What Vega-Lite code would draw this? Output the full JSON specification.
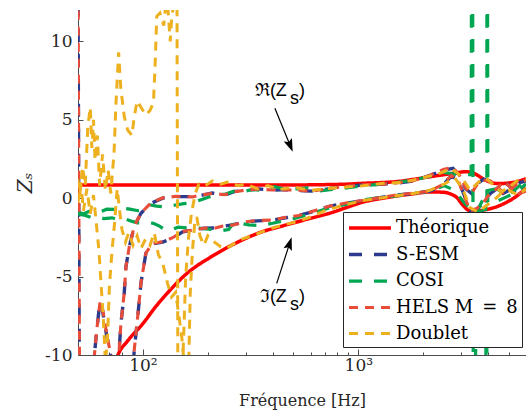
{
  "$schema": "https://vega.github.io/schema/vega-lite/v6.json",
  "width": 448,
  "height": 345,
  "autosize": {"type": "none"},
  "padding": {"left": 78, "top": 10, "right": 0, "bottom": 59},
  "background": "white",
  "config": {"view": {"stroke": null}, "font": "'DejaVu Serif', 'Liberation Serif', serif"},
  "datasets": {
    "theory": [
      {"m":"Théorique","p":"re","f":50,"z":0.84},{"m":"Théorique","p":"re","f":200,"z":0.84},{"m":"Théorique","p":"re","f":400,"z":0.84},{"m":"Théorique","p":"re","f":600,"z":0.85},{"m":"Théorique","p":"re","f":740,"z":0.87},{"m":"Théorique","p":"re","f":900,"z":0.9},{"m":"Théorique","p":"re","f":1050,"z":0.95},{"m":"Théorique","p":"re","f":1300,"z":1.0},{"m":"Théorique","p":"re","f":1510,"z":1.06},{"m":"Théorique","p":"re","f":1800,"z":1.2},{"m":"Théorique","p":"re","f":2150,"z":1.37},{"m":"Théorique","p":"re","f":2500,"z":1.5},{"m":"Théorique","p":"re","f":2860,"z":1.62},{"m":"Théorique","p":"re","f":3150,"z":1.69},{"m":"Théorique","p":"re","f":3400,"z":1.62},{"m":"Théorique","p":"re","f":3660,"z":1.37},{"m":"Théorique","p":"re","f":3900,"z":1.15},{"m":"Théorique","p":"re","f":4150,"z":1.0},{"m":"Théorique","p":"re","f":4400,"z":0.93},{"m":"Théorique","p":"re","f":4890,"z":0.96},{"m":"Théorique","p":"re","f":5450,"z":1.06},{"m":"Théorique","p":"re","f":6000,"z":1.25},
      {"m":"Théorique","p":"im","f":70,"z":-11.8},{"m":"Théorique","p":"im","f":76.6,"z":-10},{"m":"Théorique","p":"im","f":85,"z":-9.1},{"m":"Théorique","p":"im","f":100,"z":-8.0},{"m":"Théorique","p":"im","f":115,"z":-6.9},{"m":"Théorique","p":"im","f":133,"z":-5.9},{"m":"Théorique","p":"im","f":160,"z":-4.8},{"m":"Théorique","p":"im","f":204,"z":-3.8},{"m":"Théorique","p":"im","f":250,"z":-3.1},{"m":"Théorique","p":"im","f":291,"z":-2.65},{"m":"Théorique","p":"im","f":348,"z":-2.2},{"m":"Théorique","p":"im","f":450,"z":-1.75},{"m":"Théorique","p":"im","f":594,"z":-1.3},{"m":"Théorique","p":"im","f":760,"z":-0.9},{"m":"Théorique","p":"im","f":900,"z":-0.55},{"m":"Théorique","p":"im","f":1050,"z":-0.25},{"m":"Théorique","p":"im","f":1300,"z":0.0},{"m":"Théorique","p":"im","f":1510,"z":0.14},{"m":"Théorique","p":"im","f":1800,"z":0.28},{"m":"Théorique","p":"im","f":2150,"z":0.4},{"m":"Théorique","p":"im","f":2470,"z":0.38},{"m":"Théorique","p":"im","f":2700,"z":0.25},{"m":"Théorique","p":"im","f":2860,"z":0.05},{"m":"Théorique","p":"im","f":3050,"z":-0.43},{"m":"Théorique","p":"im","f":3290,"z":-0.8},{"m":"Théorique","p":"im","f":3550,"z":-0.82},{"m":"Théorique","p":"im","f":4000,"z":-0.7},{"m":"Théorique","p":"im","f":4400,"z":-0.54},{"m":"Théorique","p":"im","f":4890,"z":-0.25},{"m":"Théorique","p":"im","f":5450,"z":0.15},{"m":"Théorique","p":"im","f":6000,"z":0.65}
    ],
    "recon": [
      {"m":"S-ESM","p":"re","f":50,"z":14},{"m":"S-ESM","p":"re","f":50.8,"z":-14},{"m":"S-ESM","p":"re","f":76,"z":-14},{"m":"S-ESM","p":"re","f":77.6,"z":-9.7},{"m":"S-ESM","p":"re","f":79.1,"z":-8.0},{"m":"S-ESM","p":"re","f":81.9,"z":-6.1},{"m":"S-ESM","p":"re","f":83.4,"z":-4.4},{"m":"S-ESM","p":"re","f":86.5,"z":-3.1},{"m":"S-ESM","p":"re","f":91.2,"z":-1.8},{"m":"S-ESM","p":"re","f":98,"z":-0.96},{"m":"S-ESM","p":"re","f":109,"z":-0.33},{"m":"S-ESM","p":"re","f":123.5,"z":0.0},{"m":"S-ESM","p":"re","f":142.5,"z":0.1},{"m":"S-ESM","p":"re","f":170,"z":0.1},{"m":"S-ESM","p":"re","f":189,"z":0.2},{"m":"S-ESM","p":"re","f":210,"z":0.33},{"m":"S-ESM","p":"re","f":240,"z":0.2},{"m":"S-ESM","p":"re","f":265,"z":0.42},{"m":"S-ESM","p":"re","f":300,"z":0.5},{"m":"S-ESM","p":"re","f":340,"z":0.6},{"m":"S-ESM","p":"re","f":400,"z":0.5},{"m":"S-ESM","p":"re","f":460,"z":0.55},{"m":"S-ESM","p":"re","f":520,"z":0.5},{"m":"S-ESM","p":"re","f":600,"z":0.45},{"m":"S-ESM","p":"re","f":700,"z":0.55},{"m":"S-ESM","p":"re","f":800,"z":0.7},{"m":"S-ESM","p":"re","f":1050,"z":0.84},{"m":"S-ESM","p":"re","f":1300,"z":0.9},{"m":"S-ESM","p":"re","f":1500,"z":0.95},{"m":"S-ESM","p":"re","f":1800,"z":1.1},{"m":"S-ESM","p":"re","f":2150,"z":1.45},{"m":"S-ESM","p":"re","f":2500,"z":1.8},{"m":"S-ESM","p":"re","f":2750,"z":1.9},{"m":"S-ESM","p":"re","f":2950,"z":1.4},{"m":"S-ESM","p":"re","f":3150,"z":0.6},{"m":"S-ESM","p":"re","f":3350,"z":0.3},{"m":"S-ESM","p":"re","f":3550,"z":0.9},{"m":"S-ESM","p":"re","f":3800,"z":1.2},{"m":"S-ESM","p":"re","f":4100,"z":1.1},{"m":"S-ESM","p":"re","f":4400,"z":0.7},{"m":"S-ESM","p":"re","f":4700,"z":0.3},{"m":"S-ESM","p":"re","f":5000,"z":0.5},{"m":"S-ESM","p":"re","f":5450,"z":0.95},{"m":"S-ESM","p":"re","f":6000,"z":1.1},
      {"m":"S-ESM","p":"im","f":50,"z":-14},{"m":"S-ESM","p":"im","f":58,"z":-13},{"m":"S-ESM","p":"im","f":59.3,"z":-10.3},{"m":"S-ESM","p":"im","f":61,"z":-8.5},{"m":"S-ESM","p":"im","f":63.2,"z":-6.6},{"m":"S-ESM","p":"im","f":65,"z":-7.2},{"m":"S-ESM","p":"im","f":68,"z":-8.8},{"m":"S-ESM","p":"im","f":72,"z":-10.5},{"m":"S-ESM","p":"im","f":76,"z":-13},{"m":"S-ESM","p":"im","f":88,"z":-13},{"m":"S-ESM","p":"im","f":91.2,"z":-9.7},{"m":"S-ESM","p":"im","f":94.6,"z":-7.6},{"m":"S-ESM","p":"im","f":98,"z":-5.4},{"m":"S-ESM","p":"im","f":101.5,"z":-4.15},{"m":"S-ESM","p":"im","f":103.3,"z":-3.5},{"m":"S-ESM","p":"im","f":111,"z":-2.9},{"m":"S-ESM","p":"im","f":123.5,"z":-2.8},{"m":"S-ESM","p":"im","f":137.5,"z":-2.55},{"m":"S-ESM","p":"im","f":153,"z":-2.15},{"m":"S-ESM","p":"im","f":176,"z":-2.0},{"m":"S-ESM","p":"im","f":193,"z":-1.92},{"m":"S-ESM","p":"im","f":215,"z":-1.9},{"m":"S-ESM","p":"im","f":235,"z":-1.8},{"m":"S-ESM","p":"im","f":260,"z":-1.7},{"m":"S-ESM","p":"im","f":300,"z":-1.5},{"m":"S-ESM","p":"im","f":340,"z":-1.45},{"m":"S-ESM","p":"im","f":400,"z":-1.4},{"m":"S-ESM","p":"im","f":460,"z":-1.25},{"m":"S-ESM","p":"im","f":530,"z":-1.1},{"m":"S-ESM","p":"im","f":620,"z":-0.85},{"m":"S-ESM","p":"im","f":740,"z":-0.5},{"m":"S-ESM","p":"im","f":900,"z":-0.3},{"m":"S-ESM","p":"im","f":1100,"z":-0.1},{"m":"S-ESM","p":"im","f":1500,"z":0.2},{"m":"S-ESM","p":"im","f":1800,"z":0.3},{"m":"S-ESM","p":"im","f":2150,"z":0.45},{"m":"S-ESM","p":"im","f":2450,"z":0.8},{"m":"S-ESM","p":"im","f":2700,"z":1.4},{"m":"S-ESM","p":"im","f":2900,"z":1.2},{"m":"S-ESM","p":"im","f":3100,"z":0.2},{"m":"S-ESM","p":"im","f":3300,"z":-0.8},{"m":"S-ESM","p":"im","f":3550,"z":-0.7},{"m":"S-ESM","p":"im","f":3800,"z":-0.3},{"m":"S-ESM","p":"im","f":4100,"z":0.3},{"m":"S-ESM","p":"im","f":4400,"z":0.6},{"m":"S-ESM","p":"im","f":4700,"z":1.1},{"m":"S-ESM","p":"im","f":5000,"z":0.8},{"m":"S-ESM","p":"im","f":5450,"z":0.2},{"m":"S-ESM","p":"im","f":6000,"z":0.4},
      {"m":"COSI","p":"re","f":50,"z":-0.9},{"m":"COSI","p":"re","f":53,"z":-1.0},{"m":"COSI","p":"re","f":56,"z":-0.85},{"m":"COSI","p":"re","f":60,"z":-0.75},{"m":"COSI","p":"re","f":64,"z":-0.85},{"m":"COSI","p":"re","f":68,"z":-0.7},{"m":"COSI","p":"re","f":74,"z":-0.72},{"m":"COSI","p":"re","f":80,"z":-0.62},{"m":"COSI","p":"re","f":87,"z":-0.7},{"m":"COSI","p":"re","f":95,"z":-0.8},{"m":"COSI","p":"re","f":102,"z":-0.75},{"m":"COSI","p":"re","f":108,"z":-0.43},{"m":"COSI","p":"re","f":116,"z":-0.5},{"m":"COSI","p":"re","f":126,"z":-0.56},{"m":"COSI","p":"re","f":140,"z":-0.45},{"m":"COSI","p":"re","f":155,"z":-0.35},{"m":"COSI","p":"re","f":175,"z":-0.24},{"m":"COSI","p":"re","f":195,"z":0.0},{"m":"COSI","p":"re","f":215,"z":0.2},{"m":"COSI","p":"re","f":240,"z":0.25},{"m":"COSI","p":"re","f":265,"z":0.45},{"m":"COSI","p":"re","f":290,"z":0.4},{"m":"COSI","p":"re","f":320,"z":0.55},{"m":"COSI","p":"re","f":360,"z":0.5},{"m":"COSI","p":"re","f":410,"z":0.73},{"m":"COSI","p":"re","f":460,"z":0.55},{"m":"COSI","p":"re","f":520,"z":0.6},{"m":"COSI","p":"re","f":580,"z":0.65},{"m":"COSI","p":"re","f":650,"z":0.45},{"m":"COSI","p":"re","f":740,"z":0.55},{"m":"COSI","p":"re","f":850,"z":0.62},{"m":"COSI","p":"re","f":1050,"z":0.8},{"m":"COSI","p":"re","f":1300,"z":0.9},{"m":"COSI","p":"re","f":1500,"z":1.0},{"m":"COSI","p":"re","f":1800,"z":1.15},{"m":"COSI","p":"re","f":2150,"z":1.4},{"m":"COSI","p":"re","f":2500,"z":1.65},{"m":"COSI","p":"re","f":2900,"z":1.5},{"m":"COSI","p":"re","f":3340,"z":1.5},{"m":"COSI","p":"re","f":3370,"z":40},{"m":"COSI","p":"re","f":3440,"z":-40},{"m":"COSI","p":"re","f":3520,"z":-1.0},{"m":"COSI","p":"re","f":3750,"z":-0.2},{"m":"COSI","p":"re","f":4000,"z":0.5},{"m":"COSI","p":"re","f":4400,"z":0.6},{"m":"COSI","p":"re","f":4800,"z":0.2},{"m":"COSI","p":"re","f":5200,"z":0.4},{"m":"COSI","p":"re","f":5600,"z":0.8},{"m":"COSI","p":"re","f":6000,"z":1.0},
      {"m":"COSI","p":"im","f":50,"z":-1.0},{"m":"COSI","p":"im","f":54,"z":-1.1},{"m":"COSI","p":"im","f":58,"z":-1.25},{"m":"COSI","p":"im","f":62,"z":-1.2},{"m":"COSI","p":"im","f":66,"z":-1.3},{"m":"COSI","p":"im","f":72,"z":-1.25},{"m":"COSI","p":"im","f":78,"z":-1.4},{"m":"COSI","p":"im","f":84,"z":-1.35},{"m":"COSI","p":"im","f":90,"z":-1.5},{"m":"COSI","p":"im","f":97,"z":-1.6},{"m":"COSI","p":"im","f":104,"z":-1.55},{"m":"COSI","p":"im","f":112,"z":-1.6},{"m":"COSI","p":"im","f":120,"z":-1.8},{"m":"COSI","p":"im","f":128,"z":-2.05},{"m":"COSI","p":"im","f":136,"z":-2.0},{"m":"COSI","p":"im","f":146,"z":-1.85},{"m":"COSI","p":"im","f":160,"z":-1.9},{"m":"COSI","p":"im","f":176,"z":-1.9},{"m":"COSI","p":"im","f":195,"z":-1.95},{"m":"COSI","p":"im","f":210,"z":-2.0},{"m":"COSI","p":"im","f":225,"z":-2.1},{"m":"COSI","p":"im","f":250,"z":-2.0},{"m":"COSI","p":"im","f":268,"z":-1.45},{"m":"COSI","p":"im","f":285,"z":-1.6},{"m":"COSI","p":"im","f":310,"z":-1.7},{"m":"COSI","p":"im","f":350,"z":-1.75},{"m":"COSI","p":"im","f":400,"z":-1.6},{"m":"COSI","p":"im","f":450,"z":-1.45},{"m":"COSI","p":"im","f":500,"z":-1.3},{"m":"COSI","p":"im","f":600,"z":-1.0},{"m":"COSI","p":"im","f":740,"z":-0.6},{"m":"COSI","p":"im","f":900,"z":-0.35},{"m":"COSI","p":"im","f":1050,"z":-0.1},{"m":"COSI","p":"im","f":1500,"z":0.15},{"m":"COSI","p":"im","f":2150,"z":0.45},{"m":"COSI","p":"im","f":2500,"z":0.8},{"m":"COSI","p":"im","f":2800,"z":0.5},{"m":"COSI","p":"im","f":3100,"z":-0.3},{"m":"COSI","p":"im","f":3400,"z":-0.8},{"m":"COSI","p":"im","f":3700,"z":-0.9},{"m":"COSI","p":"im","f":3900,"z":-0.6},{"m":"COSI","p":"im","f":3945,"z":-40},{"m":"COSI","p":"im","f":3955,"z":40},{"m":"COSI","p":"im","f":3990,"z":-0.3},{"m":"COSI","p":"im","f":4400,"z":-0.2},{"m":"COSI","p":"im","f":4900,"z":0.1},{"m":"COSI","p":"im","f":5450,"z":0.4},{"m":"COSI","p":"im","f":6000,"z":0.9},
      {"m":"HELS M = 8","p":"re","f":50,"z":14},{"m":"HELS M = 8","p":"re","f":50.9,"z":-14},{"m":"HELS M = 8","p":"re","f":76,"z":-14},{"m":"HELS M = 8","p":"re","f":77.7,"z":-9.6},{"m":"HELS M = 8","p":"re","f":79.2,"z":-7.9},{"m":"HELS M = 8","p":"re","f":82,"z":-6.0},{"m":"HELS M = 8","p":"re","f":83.5,"z":-4.35},{"m":"HELS M = 8","p":"re","f":86.6,"z":-3.05},{"m":"HELS M = 8","p":"re","f":91.3,"z":-1.78},{"m":"HELS M = 8","p":"re","f":98,"z":-0.95},{"m":"HELS M = 8","p":"re","f":109,"z":-0.3},{"m":"HELS M = 8","p":"re","f":123.5,"z":0.02},{"m":"HELS M = 8","p":"re","f":142.5,"z":0.12},{"m":"HELS M = 8","p":"re","f":170,"z":0.08},{"m":"HELS M = 8","p":"re","f":189,"z":0.22},{"m":"HELS M = 8","p":"re","f":210,"z":0.3},{"m":"HELS M = 8","p":"re","f":240,"z":0.22},{"m":"HELS M = 8","p":"re","f":265,"z":0.4},{"m":"HELS M = 8","p":"re","f":300,"z":0.52},{"m":"HELS M = 8","p":"re","f":340,"z":0.58},{"m":"HELS M = 8","p":"re","f":400,"z":0.52},{"m":"HELS M = 8","p":"re","f":460,"z":0.53},{"m":"HELS M = 8","p":"re","f":520,"z":0.52},{"m":"HELS M = 8","p":"re","f":600,"z":0.45},{"m":"HELS M = 8","p":"re","f":700,"z":0.57},{"m":"HELS M = 8","p":"re","f":800,"z":0.7},{"m":"HELS M = 8","p":"re","f":1050,"z":0.85},{"m":"HELS M = 8","p":"re","f":1300,"z":0.9},{"m":"HELS M = 8","p":"re","f":1500,"z":0.97},{"m":"HELS M = 8","p":"re","f":1800,"z":1.12},{"m":"HELS M = 8","p":"re","f":2150,"z":1.45},{"m":"HELS M = 8","p":"re","f":2500,"z":1.85},{"m":"HELS M = 8","p":"re","f":2750,"z":1.95},{"m":"HELS M = 8","p":"re","f":2950,"z":1.45},{"m":"HELS M = 8","p":"re","f":3150,"z":0.65},{"m":"HELS M = 8","p":"re","f":3350,"z":0.3},{"m":"HELS M = 8","p":"re","f":3550,"z":0.85},{"m":"HELS M = 8","p":"re","f":3800,"z":1.15},{"m":"HELS M = 8","p":"re","f":4100,"z":1.1},{"m":"HELS M = 8","p":"re","f":4400,"z":0.75},{"m":"HELS M = 8","p":"re","f":4700,"z":0.35},{"m":"HELS M = 8","p":"re","f":5000,"z":0.5},{"m":"HELS M = 8","p":"re","f":5450,"z":0.9},{"m":"HELS M = 8","p":"re","f":6000,"z":1.15},
      {"m":"HELS M = 8","p":"im","f":50,"z":-14},{"m":"HELS M = 8","p":"im","f":58,"z":-13},{"m":"HELS M = 8","p":"im","f":59.4,"z":-10.2},{"m":"HELS M = 8","p":"im","f":61.1,"z":-8.4},{"m":"HELS M = 8","p":"im","f":63.3,"z":-6.6},{"m":"HELS M = 8","p":"im","f":65.1,"z":-7.1},{"m":"HELS M = 8","p":"im","f":68,"z":-8.7},{"m":"HELS M = 8","p":"im","f":72,"z":-10.4},{"m":"HELS M = 8","p":"im","f":76,"z":-13},{"m":"HELS M = 8","p":"im","f":88,"z":-13},{"m":"HELS M = 8","p":"im","f":91.3,"z":-9.6},{"m":"HELS M = 8","p":"im","f":94.7,"z":-7.5},{"m":"HELS M = 8","p":"im","f":98.1,"z":-5.35},{"m":"HELS M = 8","p":"im","f":101.6,"z":-4.1},{"m":"HELS M = 8","p":"im","f":103.4,"z":-3.48},{"m":"HELS M = 8","p":"im","f":111,"z":-2.88},{"m":"HELS M = 8","p":"im","f":123.5,"z":-2.78},{"m":"HELS M = 8","p":"im","f":137.5,"z":-2.52},{"m":"HELS M = 8","p":"im","f":153,"z":-2.12},{"m":"HELS M = 8","p":"im","f":176,"z":-2.02},{"m":"HELS M = 8","p":"im","f":193,"z":-1.9},{"m":"HELS M = 8","p":"im","f":215,"z":-1.92},{"m":"HELS M = 8","p":"im","f":235,"z":-1.78},{"m":"HELS M = 8","p":"im","f":260,"z":-1.72},{"m":"HELS M = 8","p":"im","f":300,"z":-1.5},{"m":"HELS M = 8","p":"im","f":340,"z":-1.42},{"m":"HELS M = 8","p":"im","f":400,"z":-1.4},{"m":"HELS M = 8","p":"im","f":460,"z":-1.22},{"m":"HELS M = 8","p":"im","f":530,"z":-1.1},{"m":"HELS M = 8","p":"im","f":620,"z":-0.82},{"m":"HELS M = 8","p":"im","f":740,"z":-0.5},{"m":"HELS M = 8","p":"im","f":900,"z":-0.28},{"m":"HELS M = 8","p":"im","f":1100,"z":-0.1},{"m":"HELS M = 8","p":"im","f":1500,"z":0.2},{"m":"HELS M = 8","p":"im","f":1800,"z":0.32},{"m":"HELS M = 8","p":"im","f":2150,"z":0.45},{"m":"HELS M = 8","p":"im","f":2450,"z":0.85},{"m":"HELS M = 8","p":"im","f":2700,"z":1.45},{"m":"HELS M = 8","p":"im","f":2900,"z":1.15},{"m":"HELS M = 8","p":"im","f":3100,"z":0.15},{"m":"HELS M = 8","p":"im","f":3300,"z":-0.8},{"m":"HELS M = 8","p":"im","f":3550,"z":-0.65},{"m":"HELS M = 8","p":"im","f":3800,"z":-0.3},{"m":"HELS M = 8","p":"im","f":4100,"z":0.35},{"m":"HELS M = 8","p":"im","f":4400,"z":0.6},{"m":"HELS M = 8","p":"im","f":4700,"z":1.05},{"m":"HELS M = 8","p":"im","f":5000,"z":0.8},{"m":"HELS M = 8","p":"im","f":5450,"z":0.25},{"m":"HELS M = 8","p":"im","f":6000,"z":0.45},
      {"m":"Doublet","p":"re","f":50,"z":1.2},{"m":"Doublet","p":"re","f":51,"z":0.2},{"m":"Doublet","p":"re","f":52.5,"z":2.0},{"m":"Doublet","p":"re","f":54,"z":0.8},{"m":"Doublet","p":"re","f":55.5,"z":4.5},{"m":"Doublet","p":"re","f":57,"z":5.8},{"m":"Doublet","p":"re","f":58,"z":3.2},{"m":"Doublet","p":"re","f":59,"z":5.0},{"m":"Doublet","p":"re","f":60,"z":2.4},{"m":"Doublet","p":"re","f":61.5,"z":4.0},{"m":"Doublet","p":"re","f":63,"z":0.8},{"m":"Doublet","p":"re","f":65,"z":2.8},{"m":"Doublet","p":"re","f":67,"z":0.5},{"m":"Doublet","p":"re","f":69,"z":1.8},{"m":"Doublet","p":"re","f":71,"z":0.3},{"m":"Doublet","p":"re","f":73.5,"z":2.9},{"m":"Doublet","p":"re","f":75,"z":6.0},{"m":"Doublet","p":"re","f":77.2,"z":9.3},{"m":"Doublet","p":"re","f":79,"z":7.0},{"m":"Doublet","p":"re","f":82,"z":5.2},{"m":"Doublet","p":"re","f":85,"z":4.35},{"m":"Doublet","p":"re","f":89,"z":4.0},{"m":"Doublet","p":"re","f":91,"z":5.1},{"m":"Doublet","p":"re","f":94,"z":6.2},{"m":"Doublet","p":"re","f":98,"z":5.8},{"m":"Doublet","p":"re","f":103,"z":5.3},{"m":"Doublet","p":"re","f":108,"z":5.6},{"m":"Doublet","p":"re","f":112,"z":6.1},{"m":"Doublet","p":"re","f":114,"z":8.5},{"m":"Doublet","p":"re","f":116,"z":11.6},{"m":"Doublet","p":"re","f":120,"z":11.8},{"m":"Doublet","p":"re","f":125,"z":11.0},{"m":"Doublet","p":"re","f":128,"z":12.5},{"m":"Doublet","p":"re","f":131,"z":11.9},{"m":"Doublet","p":"re","f":134,"z":10.0},{"m":"Doublet","p":"re","f":136,"z":11.5},{"m":"Doublet","p":"re","f":140,"z":12.6},{"m":"Doublet","p":"re","f":144,"z":13},{"m":"Doublet","p":"re","f":145.5,"z":-14},{"m":"Doublet","p":"re","f":151,"z":-14},{"m":"Doublet","p":"re","f":154,"z":-9.5},{"m":"Doublet","p":"re","f":158,"z":-5.0},{"m":"Doublet","p":"re","f":163,"z":-2.5},{"m":"Doublet","p":"re","f":168,"z":-1.0},{"m":"Doublet","p":"re","f":175,"z":0.3},{"m":"Doublet","p":"re","f":182,"z":0.9},{"m":"Doublet","p":"re","f":195,"z":0.8},{"m":"Doublet","p":"re","f":210,"z":1.1},{"m":"Doublet","p":"re","f":230,"z":0.9},{"m":"Doublet","p":"re","f":250,"z":1.05},{"m":"Doublet","p":"re","f":275,"z":0.8},{"m":"Doublet","p":"re","f":300,"z":0.9},{"m":"Doublet","p":"re","f":340,"z":0.6},{"m":"Doublet","p":"re","f":380,"z":0.8},{"m":"Doublet","p":"re","f":430,"z":0.55},{"m":"Doublet","p":"re","f":500,"z":0.7},{"m":"Doublet","p":"re","f":600,"z":0.5},{"m":"Doublet","p":"re","f":700,"z":0.6},{"m":"Doublet","p":"re","f":850,"z":0.7},{"m":"Doublet","p":"re","f":1050,"z":0.8},{"m":"Doublet","p":"re","f":1300,"z":0.95},{"m":"Doublet","p":"re","f":1600,"z":1.0},{"m":"Doublet","p":"re","f":2000,"z":1.3},{"m":"Doublet","p":"re","f":2400,"z":1.6},{"m":"Doublet","p":"re","f":2700,"z":1.9},{"m":"Doublet","p":"re","f":3000,"z":1.4},{"m":"Doublet","p":"re","f":3300,"z":0.5},{"m":"Doublet","p":"re","f":3600,"z":1.0},{"m":"Doublet","p":"re","f":3900,"z":1.3},{"m":"Doublet","p":"re","f":4200,"z":0.9},{"m":"Doublet","p":"re","f":4600,"z":0.4},{"m":"Doublet","p":"re","f":5000,"z":0.7},{"m":"Doublet","p":"re","f":5450,"z":1.1},{"m":"Doublet","p":"re","f":6000,"z":1.2},
      {"m":"Doublet","p":"im","f":50,"z":-0.3},{"m":"Doublet","p":"im","f":51.5,"z":1.0},{"m":"Doublet","p":"im","f":53,"z":-0.8},{"m":"Doublet","p":"im","f":55,"z":0.6},{"m":"Doublet","p":"im","f":57,"z":-1.0},{"m":"Doublet","p":"im","f":59,"z":0.2},{"m":"Doublet","p":"im","f":61,"z":-1.8},{"m":"Doublet","p":"im","f":62.5,"z":-3.3},{"m":"Doublet","p":"im","f":64,"z":-5.5},{"m":"Doublet","p":"im","f":65.5,"z":-7.6},{"m":"Doublet","p":"im","f":67,"z":-10.5},{"m":"Doublet","p":"im","f":68.5,"z":-9.0},{"m":"Doublet","p":"im","f":70,"z":-5.5},{"m":"Doublet","p":"im","f":72,"z":-3.3},{"m":"Doublet","p":"im","f":74,"z":-1.5},{"m":"Doublet","p":"im","f":76,"z":0.6},{"m":"Doublet","p":"im","f":78,"z":-0.8},{"m":"Doublet","p":"im","f":80,"z":-2.0},{"m":"Doublet","p":"im","f":83,"z":-2.8},{"m":"Doublet","p":"im","f":86,"z":-2.2},{"m":"Doublet","p":"im","f":90,"z":-3.0},{"m":"Doublet","p":"im","f":94,"z":-2.4},{"m":"Doublet","p":"im","f":98,"z":-3.2},{"m":"Doublet","p":"im","f":103,"z":-2.6},{"m":"Doublet","p":"im","f":108,"z":-3.0},{"m":"Doublet","p":"im","f":113,"z":-2.2},{"m":"Doublet","p":"im","f":118,"z":-3.6},{"m":"Doublet","p":"im","f":124,"z":-4.2},{"m":"Doublet","p":"im","f":130,"z":-5.4},{"m":"Doublet","p":"im","f":136,"z":-6.3},{"m":"Doublet","p":"im","f":142,"z":-6.0},{"m":"Doublet","p":"im","f":147,"z":-7.5},{"m":"Doublet","p":"im","f":152,"z":-9.0},{"m":"Doublet","p":"im","f":156,"z":-10.8},{"m":"Doublet","p":"im","f":160,"z":-12},{"m":"Doublet","p":"im","f":163,"z":-11},{"m":"Doublet","p":"im","f":166,"z":-6},{"m":"Doublet","p":"im","f":170,"z":-3.3},{"m":"Doublet","p":"im","f":174,"z":-1.6},{"m":"Doublet","p":"im","f":178,"z":-1.2},{"m":"Doublet","p":"im","f":184,"z":-2.4},{"m":"Doublet","p":"im","f":192,"z":-3.0},{"m":"Doublet","p":"im","f":200,"z":-2.4},{"m":"Doublet","p":"im","f":215,"z":-2.8},{"m":"Doublet","p":"im","f":230,"z":-3.1},{"m":"Doublet","p":"im","f":245,"z":-3.2},{"m":"Doublet","p":"im","f":265,"z":-2.9},{"m":"Doublet","p":"im","f":290,"z":-2.6},{"m":"Doublet","p":"im","f":320,"z":-2.4},{"m":"Doublet","p":"im","f":350,"z":-2.2},{"m":"Doublet","p":"im","f":400,"z":-1.9},{"m":"Doublet","p":"im","f":450,"z":-1.7},{"m":"Doublet","p":"im","f":520,"z":-1.5},{"m":"Doublet","p":"im","f":600,"z":-1.2},{"m":"Doublet","p":"im","f":700,"z":-0.8},{"m":"Doublet","p":"im","f":850,"z":-0.45},{"m":"Doublet","p":"im","f":1050,"z":-0.15},{"m":"Doublet","p":"im","f":1400,"z":0.1},{"m":"Doublet","p":"im","f":1800,"z":0.3},{"m":"Doublet","p":"im","f":2150,"z":0.5},{"m":"Doublet","p":"im","f":2500,"z":0.9},{"m":"Doublet","p":"im","f":2800,"z":1.3},{"m":"Doublet","p":"im","f":3050,"z":0.6},{"m":"Doublet","p":"im","f":3300,"z":-0.6},{"m":"Doublet","p":"im","f":3600,"z":-0.9},{"m":"Doublet","p":"im","f":3900,"z":-0.5},{"m":"Doublet","p":"im","f":4200,"z":-0.2},{"m":"Doublet","p":"im","f":4600,"z":0.3},{"m":"Doublet","p":"im","f":5000,"z":0.5},{"m":"Doublet","p":"im","f":5500,"z":0.2},{"m":"Doublet","p":"im","f":6000,"z":0.6}
    ],
    "arrows": [
      {"f":410,"z":5.73,"f2":480,"z2":3.44},
      {"f":418,"z":-5.43,"f2":477.5,"z2":-2.98}
    ],
    "heads": [
      {"f":480,"z":3.44,"a":158},
      {"f":477.5,"z":-2.98,"a":18}
    ],
    "notes": [
      {"f":471,"z":6.84,"a":"ℜ(Z","b":"s","c":")"},
      {"f":471,"z":-6.3,"a":"ℑ(Z","b":"s","c":")"}
    ]
  },
  "encoding": {
    "x": {
      "field": "f", "type": "quantitative",
      "scale": {"type": "log", "domain": [50, 6000], "nice": false},
      "axis": {
        "title": "Fréquence [Hz]",
        "values": [60,70,80,90,100,200,300,400,500,600,700,800,900,1000,2000,3000,4000,5000],
        "labelExpr": "datum.value == 100 ? '10²' : datum.value == 1000 ? '10³' : ''",
        "grid": false,
        "tickSize": {"condition": {"test": "datum.value == 100 || datum.value == 1000", "value": -6}, "value": -3},
        "tickColor": "#4d4d4d", "domainColor": "#4d4d4d", "domainWidth": 1,
        "labelFont": "'DejaVu Serif', 'Liberation Serif', serif", "labelFontSize": 17, "labelColor": "#262626",
        "labelPadding": 8, "labelFlush": false, "labelOverlap": false,
        "titleFont": "'DejaVu Serif', 'Liberation Serif', serif", "titleFontSize": 16, "titleFontWeight": "normal", "titleColor": "#262626",
        "titlePadding": 16
      }
    },
    "y": {
      "field": "z", "type": "quantitative",
      "scale": {"domain": [-10, 12], "nice": false, "zero": false},
      "axis": {
        "title": "Zₛ",
        "values": [-10, -5, 0, 5, 10],
        "labelExpr": "'' + datum.value",
        "grid": false,
        "tickSize": -5,
        "tickColor": "#4d4d4d", "domainColor": "#4d4d4d", "domainWidth": 1,
        "labelFont": "'DejaVu Serif', 'Liberation Serif', serif", "labelFontSize": 17, "labelColor": "#262626",
        "labelPadding": 11,
        "titleFont": "'DejaVu Serif', 'Liberation Serif', serif", "titleFontSize": 20, "titleFontWeight": "normal", "titleFontStyle": "italic", "titleColor": "#262626",
        "titlePadding": 9
      }
    }
  },
  "layer": [
    {
      "data": {"name": "theory"},
      "mark": {"type": "line", "clip": true, "interpolate": "monotone"},
      "encoding": {
        "detail": {"field": "p"},
        "color": {
          "field": "m", "type": "nominal",
          "scale": {"domain": ["Théorique","S-ESM","COSI","HELS M = 8","Doublet"], "range": ["#ff0000","#2b3a8c","#00a651","#e84d3a","#edb120"]},
          "legend": {
            "title": null, "orient": "none", "legendX": 265, "legendY": 202,
            "symbolType": "M-1,0H3.2", "symbolSize": 400,
            "labelFont": "'DejaVu Serif', 'Liberation Serif', serif", "labelFontSize": 18, "labelColor": "black",
            "labelExpr": "replace(datum.label, ' = ', '\u2002=\u2002')",
            "labelOffset": 25, "rowPadding": 5.5, "padding": 4,
            "strokeColor": "#262626", "fillColor": "white"
          }
        },
        "strokeDash": {
          "field": "m", "type": "nominal",
          "scale": {"domain": ["Théorique","S-ESM","COSI","HELS M = 8","Doublet"], "range": [[1,0],[13,12],[13,12],[9,7],[9,7]]}
        },
        "strokeWidth": {
          "field": "m", "type": "nominal",
          "scale": {"domain": ["Théorique","S-ESM","COSI","HELS M = 8","Doublet"], "range": [3.5,3,3.3,2.4,2.4]}
        }
      }
    },
    {
      "data": {"name": "recon"},
      "mark": {"type": "line", "clip": true},
      "encoding": {
        "detail": {"field": "p"},
        "color": {"field": "m", "type": "nominal"},
        "strokeDash": {"field": "m", "type": "nominal"},
        "strokeWidth": {"field": "m", "type": "nominal"}
      }
    },
    {
      "data": {"name": "arrows"},
      "mark": {"type": "rule", "color": "black", "strokeWidth": 1.2},
      "encoding": {
        "x2": {"field": "f2"},
        "y2": {"field": "z2"}
      }
    },
    {
      "data": {"name": "heads"},
      "mark": {"type": "point", "shape": "M0,-1L0.55,0.6L0,0.3L-0.55,0.6Z", "filled": true, "color": "black", "size": 260, "opacity": 1},
      "encoding": {
        "angle": {"field": "a", "type": "quantitative", "scale": null}
      }
    },
    {
      "data": {"name": "notes"},
      "mark": {"type": "text", "font": "Liberation Sans", "fontSize": 18, "color": "black", "align": "right", "baseline": "middle", "dx": -1},
      "encoding": {"text": {"field": "a"}}
    },
    {
      "data": {"name": "notes"},
      "mark": {"type": "text", "font": "Liberation Sans", "fontSize": 18, "color": "black", "align": "left", "baseline": "middle", "dx": 2, "dy": 8},
      "encoding": {"text": {"field": "b"}}
    },
    {
      "data": {"name": "notes"},
      "mark": {"type": "text", "font": "Liberation Sans", "fontSize": 18, "color": "black", "align": "left", "baseline": "middle", "dx": 11},
      "encoding": {"text": {"field": "c"}}
    }
  ]
}
